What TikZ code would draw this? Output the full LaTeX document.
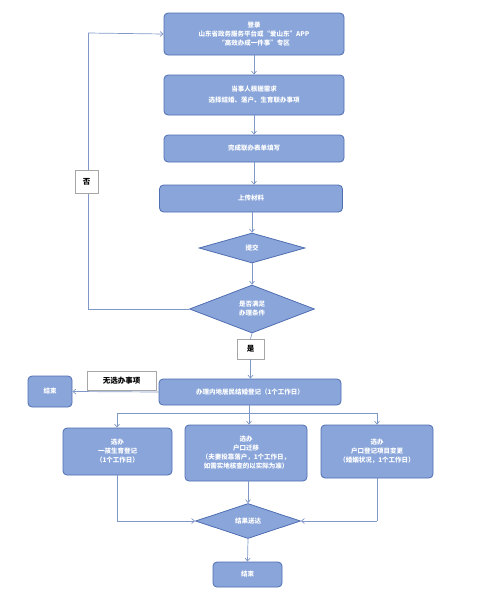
\documentclass[tikz,border=0pt]{standalone}
\usepackage{fontspec}
\setmainfont{Noto Sans CJK SC}
\usetikzlibrary{arrows.meta,shapes.geometric}
\definecolor{boxfill}{RGB}{137,165,218}
\definecolor{boxline}{RGB}{80,110,178}
\definecolor{conn}{RGB}{128,152,200}
\tikzset{
  x=1pt,y=-1pt,
  flowbox/.style={draw=boxline,fill=boxfill,line width=0.8pt,rounded corners=4pt,text=white,align=center,font=\fontsize{6.5}{9}\selectfont\bfseries,inner sep=1pt},
  flowdia/.style={draw=boxline,fill=boxfill,line width=0.8pt,diamond,aspect=2.4,text=white,align=center,font=\fontsize{6.5}{9}\selectfont\bfseries,inner sep=0pt},
  lbl/.style={draw=gray!70,fill=white,align=center,font=\fontsize{7.5}{9}\selectfont\bfseries,inner sep=1pt},
  conn/.style={draw=conn,line width=0.7pt,-{Straight Barb[length=3pt,width=5pt]}},
  plain/.style={draw=conn,line width=0.7pt}
}
\begin{document}
\begin{tikzpicture}
\useasboundingbox (0,0) rectangle (493,598);
% main column
\node[flowbox,minimum width=180pt,minimum height=42pt] (b1) at (254,34) {登录\\山东省政务服务平台或“爱山东”APP\\“高效办成一件事”专区};
\node[flowbox,minimum width=180pt,minimum height=40pt] (b2) at (254,95) {当事人根据需求\\[2pt]选择结婚、落户、生育联办事项};
\node[flowbox,minimum width=180pt,minimum height=27pt] (b3) at (254,148.5) {完成联办表单填写};
\node[flowbox,minimum width=183pt,minimum height=27pt] (b4) at (251,198.5) {上传材料};
\node[flowdia,minimum width=106pt,minimum height=30pt] (d1) at (252,248) {提交};
\node[flowdia,minimum width=125pt,minimum height=48pt] (d2) at (252,309) {是否满足\\办理条件};
\node[lbl,minimum width=27pt,minimum height=20pt] (yes) at (250.5,349) {是};
\node[flowbox,minimum width=182pt,minimum height=26pt] (b5) at (250,392) {办理内地居民结婚登记（1个工作日）};
\node[flowbox,minimum width=44pt,minimum height=31pt] (end1) at (50,391.5) {结束};
\node[lbl,minimum width=69pt,minimum height=19pt] (none) at (121.5,380.5) {无选办事项};
\node[flowbox,minimum width=109pt,minimum height=47pt] (c1) at (117.5,451.5) {选办\\一孩生育登记\\（1个工作日）};
\node[flowbox,minimum width=122pt,minimum height=56pt] (c2) at (246,453) {选办\\户口迁移\\（夫妻投靠落户，1个工作日，\\如需实地核查的以实际为准）};
\node[flowbox,minimum width=112pt,minimum height=53pt] (c3) at (377,451.5) {选办\\户口登记项目变更\\（婚姻状况，1个工作日）};
\node[flowdia,minimum width=105pt,minimum height=35pt] (d3) at (248,521) {结果送达};
\node[flowbox,minimum width=69pt,minimum height=25pt] (end2) at (247.5,574.5) {结束};
\coordinate (lt) at (88,33);
\coordinate (lb) at (88,309);
\coordinate (sl) at (117,413);
\coordinate (sm) at (249,413);
\coordinate (sr) at (377,413);
\coordinate (bl) at (117,521);
\coordinate (br) at (377,521);
% connectors
\draw[conn] (b1) -- (b2);
\draw[conn] (b2) -- (b3);
\draw[conn] (b3.south) -- (b3.south|-b4.north);
\draw[conn] (b4.south-|d1) -- (d1.north);
\draw[conn] (d1) -- (d2);
\draw[plain] (d2.west) -- (lb) -- (lt);
\draw[conn] (lt) -- (b1.west);
\node[lbl,minimum width=23pt,minimum height=23pt] (no) at (86.5,181.5) {否};
\draw[plain] (d2.south) -- (yes.north);
\draw[conn] (yes.south) -- (b5.north-|yes);
\draw[conn] (b5.west) -- (end1.east);
\draw[plain] (b5.south-|sm) -- (sm);
\draw[plain] (sl) -- (sr);
\draw[conn] (sl) -- (c1.north-|sl);
\draw[conn] (sm) -- (c2.north-|sm);
\draw[conn] (sr) -- (c3.north-|sr);
\draw[plain] (c1.south-|bl) -- (bl);
\draw[conn] (bl) -- (d3.west);
\draw[plain] (c3.south-|br) -- (br);
\draw[conn] (br) -- (d3.east);
\draw[conn] (c2.south-|d3) -- (d3.north);
\draw[conn] (d3.south) -- (end2.north);
\end{tikzpicture}
\end{document}
